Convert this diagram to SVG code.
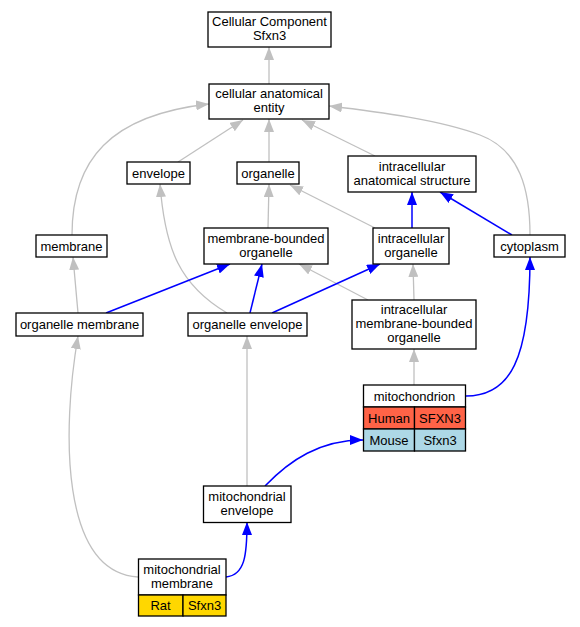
<svg xmlns="http://www.w3.org/2000/svg" width="580" height="627" viewBox="0 0 580 627">
<defs>
<style>
.n rect{fill:#fff;stroke:#000;stroke-width:1.3}
text{font-family:"Liberation Sans",Arial,sans-serif;font-size:13px;text-anchor:middle;fill:#000}
.g{fill:none;stroke:#c0c0c0;stroke-width:1.3}
.b{fill:none;stroke:#0000ff;stroke-width:1.5}
</style>
<marker id="ag" viewBox="0 0 13 10" refX="13" refY="5" markerWidth="13" markerHeight="10" markerUnits="userSpaceOnUse" orient="auto"><path d="M0,0L13,5L0,10z" fill="#c0c0c0"/></marker>
<marker id="ab" viewBox="0 0 13 10" refX="13" refY="5" markerWidth="13" markerHeight="10" markerUnits="userSpaceOnUse" orient="auto"><path d="M0,0L13,5L0,10z" fill="#0000ff"/></marker>
</defs>
<rect width="580" height="627" fill="#fff"/>
<g id="edges">
<path class="g" marker-end="url(#ag)" d="M269,84L269,47"/>
<path class="g" marker-end="url(#ag)" d="M178,162L243,120"/>
<path class="g" marker-end="url(#ag)" d="M269,162L269,119"/>
<path class="g" marker-end="url(#ag)" d="M375,156L302,120"/>
<path class="g" marker-end="url(#ag)" d="M72,235C72,160 110,115 209,104"/>
<path class="g" marker-end="url(#ag)" d="M530,235C530,190 520,150 480,135C440,120 380,112 329,106"/>
<path class="g" marker-end="url(#ag)" d="M227,313C180,285 165,250 160,184"/>
<path class="g" marker-end="url(#ag)" d="M268,228L269,184"/>
<path class="g" marker-end="url(#ag)" d="M375,228L290,185"/>
<path class="b" marker-end="url(#ab)" d="M412,228L412,192"/>
<path class="b" marker-end="url(#ab)" d="M512,235L440,192"/>
<path class="g" marker-end="url(#ag)" d="M78,313L73,257"/>
<path class="b" marker-end="url(#ab)" d="M106,313L230,264"/>
<path class="b" marker-end="url(#ab)" d="M250,313L262,264"/>
<path class="g" marker-end="url(#ag)" d="M368,300L299,264"/>
<path class="b" marker-end="url(#ab)" d="M272,313L380,264"/>
<path class="g" marker-end="url(#ag)" d="M414,300L413,264"/>
<path class="b" marker-end="url(#ab)" d="M466,396C510,396 530,360 530,257"/>
<path class="g" marker-end="url(#ag)" d="M414,385L414,349"/>
<path class="g" marker-end="url(#ag)" d="M247,486L247,336"/>
<path class="g" marker-end="url(#ag)" d="M138,577C60,572 62,430 78,336"/>
<path class="b" marker-end="url(#ab)" d="M226,577C245,575 247,555 247,522"/>
<path class="b" marker-end="url(#ab)" d="M265,486C290,460 320,440 363,440"/>
</g>
<g id="cc" class="n"><rect x="208" y="12" width="123" height="35"/><text x="269.5" y="26">Cellular Component</text><text x="269.5" y="40">Sfxn3</text></g>
<g id="cae" class="n"><rect x="209" y="84" width="120" height="35"/><text x="269" y="98">cellular anatomical</text><text x="269" y="112">entity</text></g>
<g id="envelope" class="n"><rect x="127" y="162" width="63" height="22"/><text x="158.5" y="177.5">envelope</text></g>
<g id="organelle" class="n"><rect x="237" y="162" width="62" height="22"/><text x="268" y="177.5">organelle</text></g>
<g id="ias" class="n"><rect x="348" y="156" width="128" height="36"/><text x="412" y="170.5">intracellular</text><text x="412" y="184.5">anatomical structure</text></g>
<g id="membrane" class="n"><rect x="36" y="235" width="71" height="22"/><text x="71.5" y="250.5">membrane</text></g>
<g id="mbo" class="n"><rect x="204" y="228" width="124" height="36"/><text x="266" y="242.5">membrane-bounded</text><text x="266" y="256.5">organelle</text></g>
<g id="io" class="n"><rect x="373" y="228" width="76" height="36"/><text x="411" y="242.5">intracellular</text><text x="411" y="256.5">organelle</text></g>
<g id="cytoplasm" class="n"><rect x="494" y="235" width="71" height="22"/><text x="529.5" y="250.5">cytoplasm</text></g>
<g id="om" class="n"><rect x="16" y="313" width="127" height="23"/><text x="79.5" y="329">organelle membrane</text></g>
<g id="oe" class="n"><rect x="188" y="313" width="119" height="23"/><text x="247.5" y="329">organelle envelope</text></g>
<g id="imbo" class="n"><rect x="352" y="300" width="124" height="49"/><text x="414" y="314">intracellular</text><text x="414" y="328">membrane-bounded</text><text x="414" y="342">organelle</text></g>
<g id="mito" class="n"><rect x="363.5" y="385" width="102" height="22"/><text x="414.5" y="400.5">mitochondrion</text>
<rect x="363.5" y="407" width="51" height="22" style="fill:#ff6347"/><rect x="414.5" y="407" width="51" height="22" style="fill:#ff6347"/><text x="389" y="422.5">Human</text><text x="440" y="422.5">SFXN3</text>
<rect x="363.5" y="429" width="51" height="22" style="fill:#add8e6"/><rect x="414.5" y="429" width="51" height="22" style="fill:#add8e6"/><text x="389" y="444.5">Mouse</text><text x="440" y="444.5">Sfxn3</text></g>
<g id="me" class="n"><rect x="203.5" y="486" width="87.5" height="36.5"/><text x="247" y="500.5">mitochondrial</text><text x="247" y="514.5">envelope</text></g>
<g id="mm" class="n"><rect x="138.5" y="559" width="87.5" height="36"/><text x="182" y="573.5">mitochondrial</text><text x="182" y="587.5">membrane</text>
<rect x="138.5" y="595" width="44.5" height="21" style="fill:#ffd700"/><rect x="183" y="595" width="43" height="21" style="fill:#ffd700"/><text x="160.5" y="610">Rat</text><text x="204.5" y="610">Sfxn3</text></g>
</svg>
